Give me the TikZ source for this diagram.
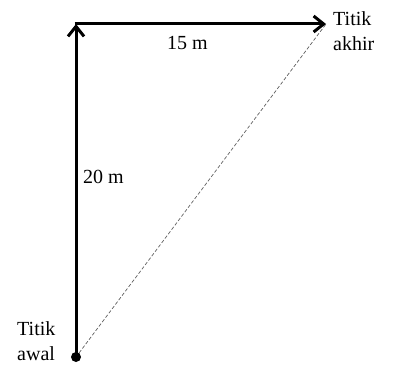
\documentclass[tikz,border=0pt]{standalone}
\usepackage{fontspec}
\setmainfont{Liberation Serif}
\usetikzlibrary{positioning, arrows.meta}

\begin{document}
\begin{tikzpicture}[x=1pt, y=1pt,
  lbl/.style={font=\fontsize{20}{25}\selectfont, align=left, inner sep=0pt},
  vec/.style={-{Straight Barb[length=10pt, width=16pt, line width=3pt]}, line width=3pt, black},
  path/.style={dash pattern=on 3.5pt off 2pt, line width=0.7pt, gray!75!black}
]
  \useasboundingbox (0,0) rectangle (393,365);
  \node[circle, fill=black, inner sep=0pt, minimum size=10pt] (awal) at (76,8) {};
  \coordinate (sudut) at (76,341);
  \coordinate (akhir) at (326,341);
  \draw[path] (awal) -- (akhir);
  \draw[vec] (awal.center) -- (sudut);
  \draw[vec] ([xshift=-1.5pt]sudut) -- (akhir);
  \node[lbl, anchor=base west] (lakhir) at (333,315) {Titik\\akhir};
  \node[lbl, anchor=base west] (lawal) at (17,5) {Titik\\awal};
  \node[lbl, anchor=base west] (dx) at (167,316) {15 m};
  \node[lbl, anchor=base west] (dy) at (83,182) {20 m};
\end{tikzpicture}
\end{document}
